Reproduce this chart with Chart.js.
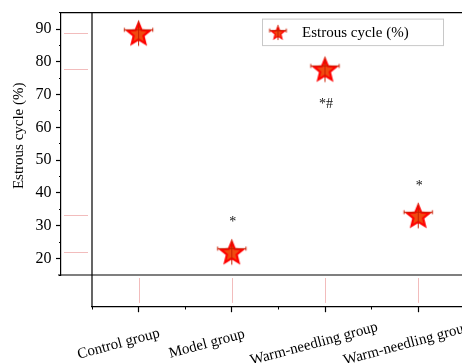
<!DOCTYPE html>
<html><head><meta charset="utf-8">
<script src="https://cdn.jsdelivr.net/npm/chart.js@4/dist/chart.umd.min.js"></script>
<style>
html,body{margin:0;padding:0;background:#fff;overflow:hidden;width:462px;height:363px}
#wrap{position:absolute;left:0;top:0;width:600px;height:363px}
</style>
</head><body><div id="wrap"><canvas id="c" width="600" height="363"></canvas></div>
<script>
// ---- data ----
const categories = ['Control group', 'Model group', 'Warm-needling group', 'Warm-needling group'];
const estrousValues = [88.8, 22.1, 77.8, 33.2];
const yTickValues = [20, 30, 40, 50, 60, 70, 80, 90];
const significanceMarks = ['', '*', '*#', '*'];
const markPlacement = ['', 'above', 'below', 'above'];
const seriesLabel = 'Estrous cycle (%)';
const yAxisTitle = 'Estrous cycle (%)';

// ---- styles ----
const SERIF = "'Liberation Serif', 'Times New Roman', serif";
const Y_AXIS_AT_X = 0.1674;   // x-value where the y axis sits (left of the plot)
const X_AXIS_AT_Y = 5.27;     // y-value where the x axis sits (below the plot)
const LABEL_NUDGE = [-20, -25, -11, -11]; // horizontal shift of rotated category labels (px)

function makeStar(R) {
  const pad = 3;
  const size = Math.ceil(2 * R + 2 * pad);
  const cv = document.createElement('canvas');
  cv.width = size; cv.height = size;
  const g = cv.getContext('2d');
  const cx = size / 2, cy = size / 2 + 0.095 * R;
  function starPath(rO, rI) {
    g.beginPath();
    for (let k = 0; k < 10; k++) {
      const a = (-90 + k * 36) * Math.PI / 180;
      const r = k % 2 === 0 ? rO : rI;
      const px = cx + r * Math.cos(a), py = cy + r * Math.sin(a);
      k === 0 ? g.moveTo(px, py) : g.lineTo(px, py);
    }
    g.closePath();
  }
  starPath(R, R * 0.44);
  g.fillStyle = '#ff0000';
  g.fill();
  starPath(R * 0.6, R * 0.44 * 0.6);
  g.fillStyle = '#f04a10';
  g.fill();
  g.strokeStyle = '#c81e00';
  g.lineWidth = 1;
  const ay = cy - 0.309 * R;
  g.beginPath();
  g.moveTo(cx - R * 0.98, ay); g.lineTo(cx + R * 0.98, ay);
  g.moveTo(cx - R * 0.98, ay - 2); g.lineTo(cx - R * 0.98, ay + 2);
  g.moveTo(cx + R * 0.98, ay - 2); g.lineTo(cx + R * 0.98, ay + 2);
  g.moveTo(cx, cy - R * 0.95); g.lineTo(cx, cy + R * 0.8);
  g.stroke();
  return cv;
}
const starImg = makeStar(14.5);
const legendStar = makeStar(8.5);

const decor = {
  id: 'decor',
  beforeDatasetsDraw(chart) {
    const {ctx, chartArea: ca, scales} = chart;
    const yAxisX = scales.x.getPixelForValue(Y_AXIS_AT_X);
    const xAxisY = scales.y.getPixelForValue(X_AXIS_AT_Y);
    ctx.save();
    ctx.strokeStyle = '#000';
    ctx.lineWidth = 1.2;
    ctx.beginPath();
    ctx.moveTo(yAxisX - 0.6, ca.top); ctx.lineTo(chart.width, ca.top);
    ctx.moveTo(yAxisX - 3, ca.bottom); ctx.lineTo(chart.width, ca.bottom);
    ctx.moveTo(ca.left, ca.top); ctx.lineTo(ca.left, xAxisY);
    ctx.stroke();
    ctx.strokeStyle = '#f2bcbc';
    ctx.lineWidth = 1;
    ctx.beginPath();
    chart.getDatasetMeta(0).data.forEach((pt) => {
      ctx.moveTo(yAxisX + 3, Math.round(pt.y) + 0.5); ctx.lineTo(ca.left - 4, Math.round(pt.y) + 0.5);
      ctx.moveTo(Math.round(pt.x) + 0.5, ca.bottom + 3); ctx.lineTo(Math.round(pt.x) + 0.5, xAxisY - 4);
    });
    ctx.stroke();
    ctx.restore();
  },
  afterDraw(chart) {
    const {ctx, chartArea: ca, scales} = chart;
    const yAxisX = scales.x.getPixelForValue(Y_AXIS_AT_X);
    const xAxisY = scales.y.getPixelForValue(X_AXIS_AT_Y);
    ctx.save();
    ctx.fillStyle = '#000';
    ctx.font = '15px ' + SERIF;
    ctx.textAlign = 'center';
    ctx.textBaseline = 'middle';
    categories.forEach((c, i) => {
      const px = scales.x.getPixelForValue(i + 1);
      ctx.save();
      ctx.translate(px + LABEL_NUDGE[i], xAxisY + 37);
      ctx.rotate(-15 * Math.PI / 180);
      ctx.fillText(c, 0, 0);
      ctx.restore();
    });
    ctx.save();
    ctx.font = '15px ' + SERIF;
    ctx.translate(yAxisX - 42, (ca.top + ca.bottom) / 2 - 8);
    ctx.rotate(-Math.PI / 2);
    ctx.fillText(yAxisTitle, 0, 0);
    ctx.restore();
    ctx.font = '14px ' + SERIF;
    ctx.fillStyle = '#111';
    chart.getDatasetMeta(0).data.forEach((pt, i) => {
      if (!significanceMarks[i]) return;
      const dy = markPlacement[i] === 'above' ? -31 : 33;
      ctx.fillText(significanceMarks[i], pt.x + 1, pt.y + dy + 2);
    });
    const lx = ca.left + 170.5, ly = ca.top + 6.5, lw = 181, lh = 26.5;
    ctx.strokeStyle = '#c8c8c8';
    ctx.lineWidth = 1;
    ctx.strokeRect(lx, ly, lw, lh);
    ctx.drawImage(legendStar, lx + 15.5 - legendStar.width / 2, ly + lh / 2 - legendStar.height / 2);
    ctx.font = '15px ' + SERIF;
    ctx.fillStyle = '#000';
    ctx.textAlign = 'left';
    ctx.fillText(chart.data.datasets[0].label, lx + 39.5, ly + lh / 2 + 1);
    ctx.restore();
  }
};

const tickGrid = (len, w) => ({display: true, drawOnChartArea: false, tickLength: len, tickWidth: w, tickColor: '#000'});

new Chart(document.getElementById('c'), {
  type: 'scatter',
  data: {
    datasets: [{
      label: seriesLabel,
      data: estrousValues.map((v, i) => ({x: i + 1, y: v})),
      pointStyle: starImg,
      showLine: false,
      clip: false
    }]
  },
  options: {
    responsive: false,
    animation: false,
    events: [],
    layout: {padding: {left: 92, top: 12, right: 135.2, bottom: 88}},
    plugins: {legend: {display: false}, tooltip: {enabled: false}},
    scales: {
      x: {
        type: 'linear', position: {y: X_AXIS_AT_Y}, min: 0.5, max: 4.5,
        afterBuildTicks: (s) => { s.ticks = categories.map((c, i) => ({value: i + 1})); },
        ticks: {display: false},
        grid: tickGrid(5, 1.2),
        border: {display: true, color: '#000', width: 1.2}
      },
      xMinor: {
        type: 'linear', axis: 'x', position: {y: X_AXIS_AT_Y}, min: 0.5, max: 4.5,
        ticks: {display: false, stepSize: 0.5},
        grid: tickGrid(2.5, 1),
        border: {display: false}
      },
      y: {
        type: 'linear', position: {x: Y_AXIS_AT_X}, min: 15, max: 95,
        afterBuildTicks: (s) => { s.ticks = yTickValues.map((v) => ({value: v})); },
        ticks: {color: '#000', font: {family: SERIF, size: 16}, padding: 3,
                callback: (v) => v + '\u2009\u2009\u2009'},
        grid: tickGrid(4, 1.2),
        border: {display: true, color: '#000', width: 1.2}
      },
      yMinor: {
        type: 'linear', axis: 'y', position: {x: Y_AXIS_AT_X}, min: 15, max: 95,
        ticks: {display: false, stepSize: 5},
        grid: tickGrid(2, 1),
        border: {display: false}
      }
    }
  },
  plugins: [decor]
});
</script>
</body></html>
